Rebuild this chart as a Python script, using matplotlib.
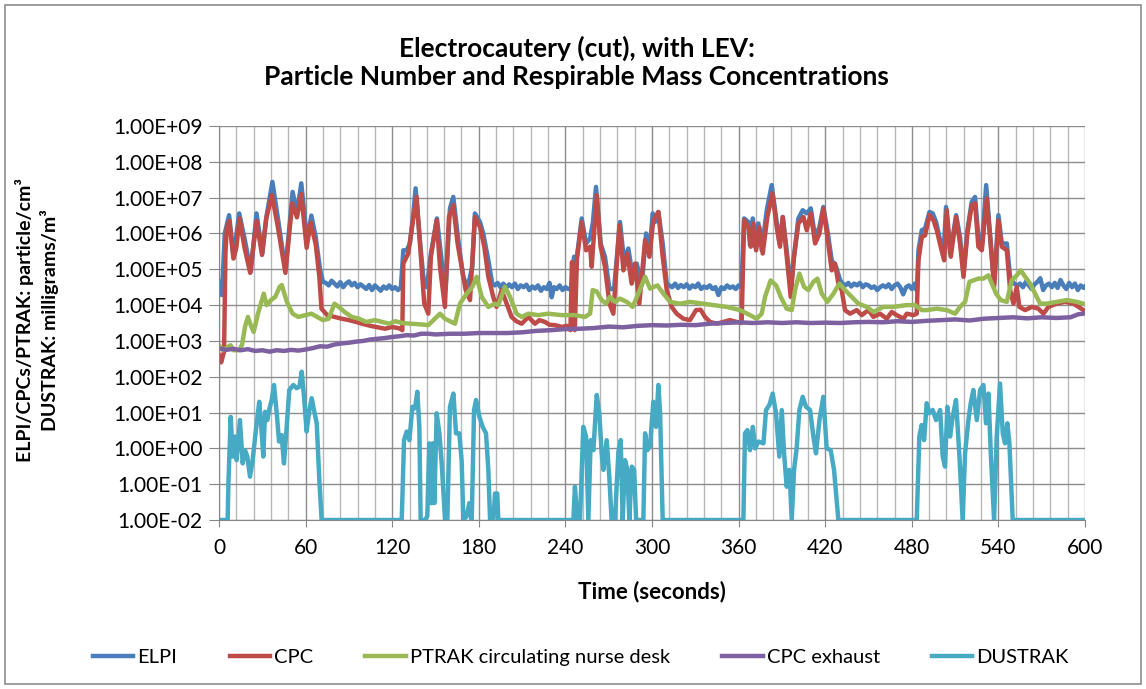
import matplotlib
matplotlib.use("Agg")
import matplotlib.pyplot as plt
import numpy as np
from matplotlib.patches import Rectangle

plt.rcParams["font.family"] = ["Lato", "DejaVu Sans"]

# values are stored as log10 exponents
elpi_t = [0, 2, 4, 7, 10, 14, 18, 22, 26, 30, 33, 37, 41, 46, 51, 54, 57, 61, 64, 67, 70, 72,
          74, 76, 78, 80, 82, 84, 86, 88, 90, 92, 94, 96, 98, 100, 102, 104, 106, 108, 110, 112,
          114, 116, 118, 120, 122, 124, 126,
          127.7, 130, 132.3, 134.5, 136.2, 139.2, 142, 144, 146.8, 151, 154.2, 157, 160, 162.3,
          165.8, 169.2, 172.2, 175.5, 177.3, 180.8, 183.1, 186.6, 189.3,
          191, 193, 195, 197, 199, 201, 203, 205, 207, 209, 211, 213, 215, 217, 219, 221, 223,
          225, 227, 229, 230.5, 232, 234, 236, 238, 240, 242, 244,
          246, 247.8, 251.3, 254.3, 257.1, 259, 261.2, 264.4, 267.4, 270.5, 273.7, 277.8, 280.6,
          283.6, 286.6, 289.4, 292.9, 295.9, 298.2, 300.5, 302.1, 304.4, 307.4, 310.2,
          312, 314, 316, 318, 320, 322, 324, 326, 328, 330, 332, 334, 336, 338, 340, 342, 344,
          346, 348, 350, 352, 354, 356, 358, 360, 362,
          363.8, 366.8, 367.9, 369.8, 371.4, 373.7, 376, 379.5, 382.9, 385.9, 388.3, 390.6,
          393.3, 396.1, 398, 401.4, 404.4, 407.2, 410, 413, 416, 418.7, 421.5, 424.5, 427.5, 430.3,
          432, 434, 436, 438, 440, 442, 444, 446, 448, 450, 452, 454, 456, 458, 460, 462, 464,
          466, 468, 470, 472, 474, 476, 478, 480, 482, 483.5,
          484.6, 486.9, 489.2, 492.2, 494.5, 496.8, 499.6, 501.9, 503.7, 506.5, 510.7, 513.4,
          515.8, 518.5, 521.5, 523.8, 526.1, 528.5, 531.5, 533.8, 537, 540, 542.3, 545.8, 548.1, 550.9,
          553, 555, 557, 559, 561, 563, 565, 567, 569, 571, 573, 575, 577, 579, 581, 583, 585,
          587, 589, 591, 593, 595, 597, 599, 600]
elpi_exp = [4.65, 4.28, 6.0, 6.51, 5.35, 6.56, 5.8, 4.93, 6.56, 5.44, 6.5, 7.44, 6.37, 4.98, 7.16,
            6.56, 7.4, 5.8, 6.5, 5.9, 5.0, 4.65,
            4.62, 4.55, 4.68, 4.6, 4.52, 4.64, 4.5, 4.6, 4.66, 4.55, 4.62, 4.5, 4.58, 4.52, 4.45,
            4.56, 4.42, 4.55, 4.48, 4.4, 4.52, 4.46, 4.55, 4.45, 4.5, 4.42, 4.5,
            5.53, 5.53, 5.72, 6.5, 7.26, 5.81, 4.6, 4.5, 5.44, 6.42, 5.25, 4.45, 6.7, 7.02,
            5.81, 4.79, 4.5, 5.07, 6.56, 6.32, 6.0, 5.25, 4.6,
            4.55, 4.62, 4.5, 4.6, 4.48, 4.58, 4.5, 4.6, 4.45, 4.55, 4.5, 4.57, 4.42, 4.52, 4.46,
            4.55, 4.4, 4.5, 4.45, 4.62, 4.22, 4.5, 4.45, 4.55, 4.42, 4.5, 4.45, 4.48,
            5.35, 5.3, 6.42, 5.72, 5.86, 6.3, 7.3, 5.72, 5.35, 4.45, 4.45, 6.32, 5.25,
            5.58, 4.79, 5.16, 4.55, 6.0, 5.44, 6.56, 6.32, 6.6, 5.72, 4.6,
            4.55, 4.5, 4.6, 4.48, 4.56, 4.5, 4.58, 4.46, 4.55, 4.5, 4.6, 4.45, 4.52, 4.48, 4.55,
            4.45, 4.5, 4.28, 4.5, 4.45, 4.55, 4.48, 4.52, 4.45, 4.55, 4.5,
            6.42, 6.32, 5.67, 6.42, 5.63, 6.28, 5.53, 6.65, 7.35, 6.46, 5.72, 6.46,
            5.53, 4.45, 5.25, 6.42, 6.65, 6.56, 6.7, 5.9, 6.18, 6.74, 6.09, 5.25, 5.07, 4.7,
            4.6, 4.55, 4.62, 4.52, 4.6, 4.55, 4.62, 4.5, 4.58, 4.55, 4.48, 4.52, 4.42, 4.5, 4.55,
            4.5, 4.58, 4.45, 4.55, 4.6, 4.5, 4.3, 4.5, 4.55, 4.45, 4.6, 4.4,
            5.53, 6.09, 6.14, 6.6, 6.56, 6.32, 5.81, 5.35, 6.74, 5.44, 6.51, 5.9,
            4.88, 6.09, 6.88, 7.02, 5.9, 5.63, 7.35, 6.18, 4.6, 6.51, 5.72, 5.72, 4.79, 4.6,
            4.55, 4.6, 4.5, 4.65, 4.55, 4.45, 4.58, 4.65, 4.75, 4.42, 4.55, 4.6, 4.5, 4.62, 4.48,
            4.7, 4.55, 4.45, 4.62, 4.5, 4.6, 4.42, 4.55, 4.48, 4.52]

cpc_t = [0, 1.5, 3.5, 4.5, 5.5, 7.2, 10, 12, 14.2, 17.7, 21.6, 26, 29.8, 32.6, 36.7, 40.7, 46,
         50.7, 54, 57, 60.7, 63.5, 67, 69.5, 71, 75, 80, 85, 90, 95, 100, 105, 110, 115, 120,
         125, 127,
         127.7, 131.1, 133.4, 136.9, 139.2, 142.2, 145, 146.8, 150.8, 153.1, 156.5, 159.3, 162.3,
         165.3, 168.1, 170.9, 173.9, 177.3, 180.8, 183.8, 186.6, 190, 192.3, 195.8, 199.3, 202.7,
         206, 209.7, 214.3, 218.9, 222, 225.8, 229, 232.8, 237.4, 241, 243.5,
         244.5, 245.5, 246.5, 248, 251.3, 254.3, 257.1, 258.2, 261.7, 264.4, 267.4, 270.5, 273.2,
         277.4, 280.2, 282.9, 285.9, 288.2, 291.2, 295.2, 298.2, 300.9, 304.4, 307.4, 310.2,
         313.6, 317.1, 321.7, 326.3, 330.5, 333.7, 336.7, 340.2, 344.8, 349.4, 354, 358.7, 362.1,
         363.8, 366.8, 368.4, 370.2, 372.1, 374.4, 376.7, 379.9, 383.4, 386.4, 388.7, 390.6,
         393.3, 396.1, 398.4, 401.4, 404.9, 407.2, 410, 413, 416, 418.7, 421.5, 424.5, 426.8,
         429.1, 431.4, 433.7, 437.2, 441.8, 445.3, 449.9, 453.4, 458, 462.6, 466.1, 469.5, 474.2,
         476.5, 481.1, 483.4,
         484.6, 486.9, 489.2, 492.2, 495, 497.3, 500, 502.4, 504.2, 507, 510.7, 513.4, 515.8,
         518.5, 521.5, 523.8, 526.1, 528.5, 531.9, 534.2, 537, 540, 542.3, 545.8, 548.1, 550.4,
         552.7, 554.5, 558.5, 563.1, 567.7, 571.2, 574.6, 580.4, 586.2, 592, 595.4, 598.9, 600]
cpc_exp = [2.6, 2.4, 2.7, 5.5, 6.18, 6.35, 5.3, 5.6, 6.42, 5.6, 4.9, 6.35, 5.4, 6.4, 7.07, 6.2,
           4.9, 6.84, 6.45, 7.1, 5.6, 6.3, 5.7, 4.8, 3.9, 3.72, 3.67, 3.62, 3.58, 3.53, 3.47,
           3.42, 3.38, 3.34, 3.39, 3.35, 3.3,
           5.16, 5.44, 6.09, 7.02, 5.72, 4.04, 3.76, 5.35, 6.37, 5.07, 3.95, 6.46, 6.79,
           5.72, 5.07, 4.42, 4.14, 6.46, 6.18, 5.63, 4.79, 4.23, 3.95, 4.42, 4.04, 3.67,
           3.55, 3.48, 3.67, 3.48, 3.58, 3.53, 3.45, 3.44, 3.39, 3.42, 3.3,
           5.2, 5.0, 3.3, 5.3, 6.32, 5.53, 5.63, 5.07, 7.07, 5.63, 5.07, 4.04, 3.76,
           6.23, 4.97, 5.44, 4.6, 5.16, 4.04, 5.81, 5.35, 6.37, 6.6, 5.35, 4.42,
           3.95, 3.76, 3.62, 3.58, 3.86, 3.87, 3.67, 3.53, 3.48, 3.53, 3.58, 3.53, 3.5,
           6.37, 6.18, 5.63, 6.28, 5.53, 6.18, 5.44, 6.46, 7.12, 6.18, 5.63, 6.46,
           5.35, 4.23, 5.35, 6.28, 6.46, 6.09, 6.56, 5.72, 6.0, 6.7, 5.9, 4.97, 5.16,
           4.6, 4.42, 3.86, 3.76, 3.86, 3.72, 3.86, 3.67, 3.76, 3.62, 3.81, 3.72, 3.62,
           3.76, 3.72, 3.76,
           5.25, 5.9, 5.95, 6.51, 6.37, 6.09, 5.63, 5.25, 6.65, 5.35, 6.46, 5.72, 4.79,
           6.0, 6.79, 6.84, 5.63, 5.53, 6.98, 5.9, 4.51, 6.37, 5.63, 5.53, 4.42, 4.04,
           4.51, 3.95, 3.86, 3.95, 3.9, 3.76, 3.95, 4.04, 4.09, 4.04, 3.95, 3.86, 3.82]

ptrak_t = [0, 3, 6, 8, 10, 14, 16, 18, 20, 22, 24, 27, 29, 31, 33, 36, 39, 42, 43.5, 47, 51, 55,
           60, 64, 68, 72, 76, 80, 83, 87, 92, 97, 102, 108, 113, 118, 122, 127, 133, 140, 145,
           149.6, 153.1, 156.5, 160, 163.5, 166.9, 171.6, 175.5, 178.5, 182, 186.6, 191.2, 193.5,
           198.1, 201.6, 206.2, 209.7, 214.3, 221.2, 228.1, 237.4, 246.6, 253.5, 257.1, 258.9,
           261.7, 265.1, 268.1, 270.9, 274.4, 277.8, 282.5, 286.6, 290.5, 295.2, 298.6, 303.7,
           307.9, 312.5, 319.4, 326.3, 335.6, 342.5, 351.7, 361, 367.9, 372.5, 376, 378.3, 382.2,
           386, 389.2, 393.3, 396.8, 399.1, 402.1, 405.3, 408.3, 411.8, 414.6, 417.6, 421.5,
           425.7, 429.8, 433.7, 438.4, 443, 448.8, 453.4, 460.3, 467.2, 476.5, 482.2, 486.9,
           490.3, 497.3, 504.2, 510, 513.4, 516.9, 519.9, 522.7, 526.1, 529.6, 533.1, 535.4,
           538.4, 541.6, 545.8, 549.2, 552.7, 555.5, 558.5, 562, 565.4, 568.9, 573.5, 580.4,
           587.3, 594.3, 598.9, 600]
ptrak_exp = [2.88, 2.74, 2.83, 2.88, 2.74, 2.74, 2.9, 3.39, 3.67, 3.44, 3.25, 3.76, 4.04, 4.32,
             4.0, 4.14, 4.23, 4.51, 4.56, 4.09, 3.76, 3.67, 3.72, 3.76, 3.67, 3.58, 3.62, 4.04,
             3.95, 3.81, 3.67, 3.62, 3.53, 3.58, 3.53, 3.48, 3.55, 3.5, 3.48, 3.46, 3.44,
             3.62, 3.76, 3.62, 3.55, 3.48, 4.04, 4.32, 4.51, 4.79, 4.23, 3.95, 4.04, 4.0,
             4.51, 4.23, 3.76, 3.67, 3.76, 3.72, 3.76, 3.72, 3.72, 3.67, 3.76, 4.42,
             4.38, 4.14, 4.04, 4.23, 4.09, 4.18, 4.09, 3.95, 4.32, 4.79, 4.46, 4.55,
             4.32, 4.09, 4.04, 4.09, 4.04, 4.0, 3.95, 3.86, 3.72, 3.62, 3.76, 4.23, 4.69,
             4.55, 4.23, 3.9, 3.86, 4.42, 4.88, 4.51, 4.42, 4.65, 4.74, 4.32, 4.09,
             4.32, 4.6, 4.42, 4.23, 4.04, 3.95, 3.81, 3.95, 3.95, 4.0, 4.0, 3.86,
             3.86, 3.9, 3.86, 3.76, 3.95, 4.09, 4.65, 4.69, 4.74, 4.74, 4.83, 4.6,
             4.32, 4.14, 4.09, 4.69, 4.83, 4.97, 4.79, 4.6, 4.32, 4.04, 4.04, 4.09,
             4.14, 4.09, 4.04, 4.02]

exhaust_t = [0, 5, 10, 15, 20, 25, 30, 35, 40, 45, 50, 55, 60, 65, 70, 75, 80, 85, 90, 95, 100,
             105, 110, 115, 120, 125, 130, 135, 140, 145, 150, 160, 170, 180, 190, 200, 210, 220,
             230, 240, 250, 260, 270, 280, 290, 300, 310, 320, 330, 340, 350, 360, 370, 380, 390,
             400, 410, 420, 430, 440, 450, 460, 470, 480, 490, 500, 510, 520, 530, 540, 550, 560,
             570, 580, 590, 595, 600]
exhaust_exp = [2.79, 2.75, 2.78, 2.74, 2.77, 2.72, 2.74, 2.70, 2.74, 2.72, 2.75, 2.73, 2.76, 2.8,
               2.85, 2.84, 2.9, 2.93, 2.95, 2.98, 3.0, 3.04, 3.06, 3.08, 3.11, 3.13, 3.16, 3.15,
               3.2, 3.2, 3.18, 3.2, 3.2, 3.22, 3.22, 3.22, 3.24, 3.28, 3.3, 3.33, 3.34, 3.36, 3.4,
               3.38, 3.42, 3.44, 3.43, 3.45, 3.44, 3.48, 3.5, 3.52, 3.5, 3.52, 3.5, 3.52, 3.5,
               3.51, 3.5, 3.52, 3.53, 3.52, 3.55, 3.53, 3.56, 3.58, 3.6, 3.57, 3.62, 3.64, 3.66,
               3.63, 3.66, 3.64, 3.66, 3.74, 3.77]

dustrak_t = [0, 6, 6.5, 8.1, 9.5, 11.1, 12.2, 14.5, 16.4, 18, 19.6, 21.5, 23.3, 26.1, 27.9, 29.6,
             30.7, 31.9, 33.5, 34.9, 36.5, 38.1, 40, 41.6, 43.4, 45, 46.4, 48.7, 51.5, 53.8, 55.7,
             57.3, 58.9, 60.7, 62.6, 64.2, 65.8, 67.7, 69.5, 71.1,
             126.6, 128.2, 130, 131.9, 134, 135.8, 137.4, 138.8, 139.7, 142.7, 144.3, 145.7, 146.9,
             148, 149.2, 150.8, 152.7, 154.3, 156.6, 158.2, 160, 162.4, 164.2, 166.5, 168.1, 169.3,
             171.6, 173.4, 175.1, 176.7, 178.1, 180.4, 182.7, 185, 186.6, 187.8, 190.1, 191.2,
             192.8, 193.5,
             245.5, 246.6, 248.3, 250.1, 252.4, 254.3, 255.9, 257.5, 259.4, 261.7, 263.5, 265.1,
             266.3, 268.6, 270.4, 272, 274.3, 276.7, 278.3, 279.7, 281.3, 282.9, 284.3, 286, 287.6,
             289, 294, 295.2, 296.8, 298.6, 300.9, 302.8, 304.4, 305.6, 307.4,
             363.3, 364.4, 366.1, 367.9, 369.8, 371.4, 373.7, 377.2, 379, 381.3, 383.6, 385.9,
             388.2, 389.9, 391.5, 393.3, 395.2, 396.8, 398.4, 400.2, 402.1, 404.4, 406.7, 409.5,
             411.8, 413.6, 416, 418.7, 421, 423.8, 426.1, 429.1,
             483.4, 485.2, 486.8, 488.5, 490.3, 492.2, 494.5, 496.8, 499.6, 501.4, 503, 504.6,
             506.5, 508.3, 510.6, 513, 515.2, 516.9, 519.2, 520.8, 522.6, 525, 527.3, 529.6, 531.4,
             533.1, 534.7, 537, 538.8, 541.1, 543, 544.6, 546.2, 547.6, 549.9, 600]
dustrak_exp = [-2, -2, -1.0, 0.88, -0.23, 0.33, -0.33, 0.79, -0.42, -0.05, -0.23, -0.79, -0.33,
               0.7, 1.3, 0.42, -0.23, 1.02, 0.79, 1.1, 1.35, 1.77, 0.98, 0.19, 0.37, -0.42, 0.33,
               1.63, 1.77, 1.68, 1.72, 2.14, 1.44, 0.47, 1.07, 1.4, 1.07, 0.7, -0.88, -2,
               -2, 0.23, 0.47, 0.23, 1.16, 1.12, 1.58, 0.6, -2, -2, -1.9, 0.14, -1.53,
               0.14, -1.53, 0.98, 0.42, -0.42, -2, -2, 1.16, 1.53, 0.42, 0.42, -0.33, -2,
               -1.9, -1.53, -2, 1.07, 1.35, 0.88, 0.6, 0.42, -0.6, -2, -2, -1.26,
               -1.26, -2,
               -2, -1.07, -2, -2, 0.6, 0.33, -2, 0.23, -0.05, 1.49, 0.98, -0.14,
               -0.6, 0.23, -0.79, -2, -2, -0.1, 0.23, -2, -0.33, -0.6, -2, -0.51, -0.6,
               -2, -2, 0.42, -0.05, 0.05, 1.3, 0.6, 1.77, 0.98, -2,
               -2, 0.42, 0.51, -0.05, 0.6, 0.0, 0.19, 0.14, 1.07, 1.21, 1.53, 0.98,
               -0.23, 1.07, -0.14, -1.07, -0.6, -2, -0.6, 0.0, 1.07, 1.44, 1.16, 1.07,
               0.33, -0.14, 0.79, 1.44, 0.0, -0.05, -0.6, -2,
               -2, 0.33, 0.65, 0.23, 1.26, 0.98, 1.07, 0.79, 1.07, -0.23, -0.51, 1.16,
               0.33, 0.88, 1.35, -0.23, -2, -0.14, 0.79, 1.26, 1.63, 0.79, 1.63, 1.77, 0.7,
               1.53, -0.14, -2, 0.33, 1.81, 0.42, 0.14, 0.7, 0.14, -2, -2]

series = [
    ("ELPI", elpi_t, elpi_exp, "#4a7ebb"),
    ("CPC", cpc_t, cpc_exp, "#be4b48"),
    ("PTRAK circulating nurse desk", ptrak_t, ptrak_exp, "#98b954"),
    ("CPC exhaust", exhaust_t, exhaust_exp, "#7d60a0"),
    ("DUSTRAK", dustrak_t, dustrak_exp, "#46aac5"),
]

fig = plt.figure(figsize=(11.46, 6.89), dpi=100)
ax = fig.add_axes([0.1911, 0.2453, 0.7557, 0.5718])

for label, t, e, color in series:
    ax.plot(t, np.power(10.0, e), color=color, lw=3.2, label=label, solid_joinstyle="round")

ax.set_yscale("log")
ax.set_ylim(1e-2, 1e9)
ax.set_xlim(0, 600)
decades = list(range(-2, 10))
ax.set_yticks([10.0 ** d for d in decades])
ax.set_yticklabels([f"1.00E{d:+03d}" for d in decades], fontsize=15)
ax.yaxis.set_minor_locator(matplotlib.ticker.NullLocator())
ax.set_xticks(np.arange(0, 601, 60))
ax.set_xticks(np.arange(0, 601, 12), minor=True)
ax.tick_params(axis="x", labelsize=15, length=5, color="#868686", pad=8)
ax.tick_params(axis="x", which="minor", length=0)
ax.tick_params(axis="y", length=7, color="#868686", pad=5)

ax.grid(True, which="major", axis="both", color="#8c8c8c", lw=1.0)
ax.grid(True, which="minor", axis="x", color="#b8b8b8", lw=1.0)
ax.set_axisbelow(True)
for s in ["top", "right"]:
    ax.spines[s].set_visible(False)
for s in ["left", "bottom"]:
    ax.spines[s].set_color("#868686")

ax.set_xlabel("Time (seconds)", fontsize=16, fontweight="bold", labelpad=16)
fig.text(0.021, 0.535, "ELPI/CPCs/PTRAK: particle/cm³", rotation=90, fontsize=14,
         fontweight="bold", ha="center", va="center")
fig.text(0.043, 0.535, "DUSTRAK: milligrams/m³", rotation=90, fontsize=14,
         fontweight="bold", ha="center", va="center")
fig.text(0.503, 0.909, "Electrocautery (cut), with LEV:\nParticle Number and Respirable Mass Concentrations",
         fontsize=19, fontweight="bold", ha="center", va="center", linespacing=1.2)

fig.legend(loc="center", bbox_to_anchor=(0.507, 0.046), ncol=5, frameon=False,
           fontsize=14.5, handlelength=2.0, columnspacing=2.6, handletextpad=0.2)

fig.patches.append(Rectangle((5 / 1146, 5 / 689), 1136 / 1146, 679 / 689,
                             transform=fig.transFigure, fill=False, edgecolor="#8c8c8c", lw=1.2))

fig.savefig("out.png", dpi=100)
